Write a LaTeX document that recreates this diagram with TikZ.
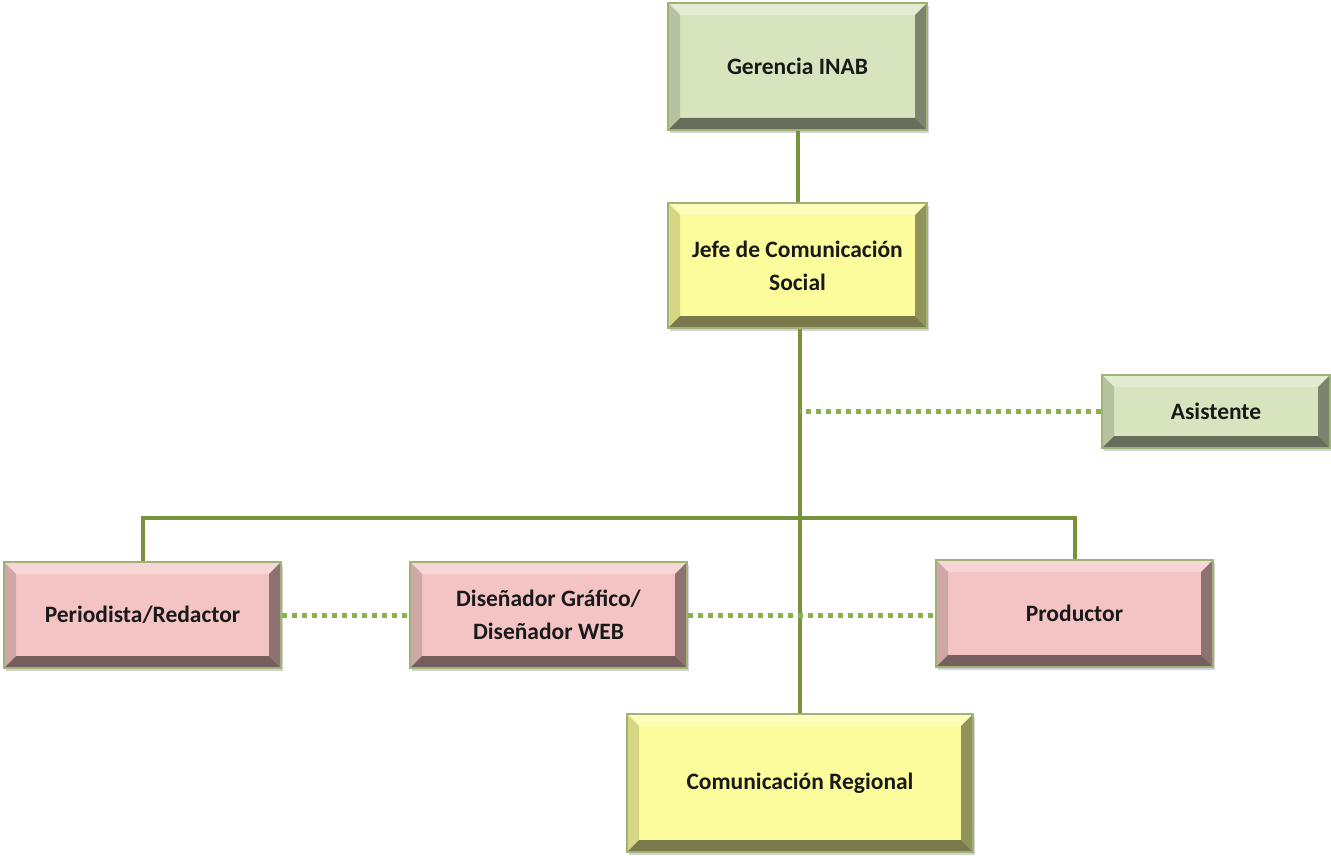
\documentclass[tikz,border=0pt]{standalone}
\usepackage{fontspec}
\setmainfont{Carlito}
\usetikzlibrary{shadows}
\definecolor{linegreen}{HTML}{77933C}
\definecolor{dotgreen}{HTML}{8DB04F}
\definecolor{greenbox}{HTML}{D7E4BD}
\definecolor{yellowbox}{HTML}{FCFC9C}
\definecolor{pinkbox}{HTML}{F4C4C4}
\tikzset{
  bevel/.style={
    draw=linegreen!70!white, line width=1.2pt, fill=#1,
    drop shadow={opacity=0.35, shadow xshift=2pt, shadow yshift=-3pt},
    font=\bfseries\fontsize{23.5}{33}\selectfont, text=black!90, align=center,
    inner sep=0pt,
    path picture={
      \def\bv{12pt}
      \fill[#1!70!white]
        (path picture bounding box.north west) -- (path picture bounding box.north east)
        -- ([xshift=-\bv,yshift=-\bv]path picture bounding box.north east)
        -- ([xshift=\bv,yshift=-\bv]path picture bounding box.north west) -- cycle;
      \fill[#1!85!black]
        (path picture bounding box.north west) -- (path picture bounding box.south west)
        -- ([xshift=\bv,yshift=\bv]path picture bounding box.south west)
        -- ([xshift=\bv,yshift=-\bv]path picture bounding box.north west) -- cycle;
      \fill[#1!58!black]
        (path picture bounding box.north east) -- (path picture bounding box.south east)
        -- ([xshift=-\bv,yshift=\bv]path picture bounding box.south east)
        -- ([xshift=-\bv,yshift=-\bv]path picture bounding box.north east) -- cycle;
      \fill[#1!48!black]
        (path picture bounding box.south west) -- (path picture bounding box.south east)
        -- ([xshift=-\bv,yshift=\bv]path picture bounding box.south east)
        -- ([xshift=\bv,yshift=\bv]path picture bounding box.south west) -- cycle;
    }
  },
  solidlink/.style={draw=linegreen, line width=4pt},
  dotlink/.style={draw=dotgreen, line width=5pt, dash pattern=on 5pt off 5pt}
}
\begin{document}
\begin{tikzpicture}[x=1pt,y=-1pt]
\useasboundingbox (0,0) rectangle (1331,856);

% org chart boxes
\node[bevel=greenbox, minimum width=259pt, minimum height=127pt] (ger) at (797.5,66.5) {Gerencia INAB};
\node[bevel=yellowbox, minimum width=259pt, minimum height=125pt] (jefe) at (797.5,265.5) {Jefe de Comunicación\\Social};
\node[bevel=greenbox, minimum width=228pt, minimum height=73pt] (asis) at (1216,411.5) {Asistente};
\node[bevel=pinkbox, minimum width=277pt, minimum height=106pt] (per) at (142.5,615) {Periodista/Redactor};
\node[bevel=pinkbox, minimum width=277pt, minimum height=106pt] (dis) at (548.5,615) {Diseñador Gráfico/\\Diseñador WEB};
\node[bevel=pinkbox, minimum width=277pt, minimum height=107pt] (prod) at (1074.5,613.5) {Productor};
\node[bevel=yellowbox, minimum width=346pt, minimum height=138pt] (reg) at (800,783) {Comunicación Regional};

\coordinate (bus) at (800,518);

% reporting lines
\draw[solidlink] (ger.south) -- (jefe.north);
\draw[solidlink] (jefe.south -| reg.north) -- (reg.north);
\draw[solidlink] (per.north) -- (per.north |- bus) -- (prod.north |- bus) -- (prod.north);

% staff (dotted) lines
\draw[dotlink] (asis.west) -- (asis.west -| reg.north);
\draw[dotlink] (per.east) -- (dis.west);
\draw[dotlink] (dis.east) -- (dis.east -| prod.west);
\end{tikzpicture}
\end{document}
